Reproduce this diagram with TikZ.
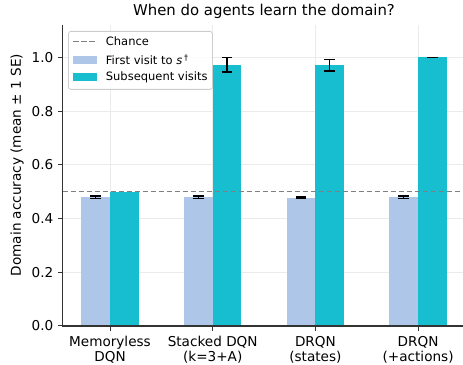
\documentclass[tikz,border=0pt]{standalone}
\usepackage{fontspec}
\setmainfont{DejaVu Sans}
\definecolor{firstc}{HTML}{AEC7E8}
\definecolor{subc}{HTML}{17BECF}
\definecolor{gridc}{HTML}{EBEBEB}
\definecolor{spinec}{HTML}{333333}
\definecolor{chancec}{HTML}{808080}
\definecolor{legc}{HTML}{CCCCCC}
\tikzset{
  gridline/.style={draw=gridc, line width=0.9pt},
  spine/.style={draw=spinec, line width=1.3pt},
  tickmark/.style={draw=spinec, line width=1pt},
  chanceline/.style={draw=chancec, line width=1.5pt, dash pattern=on 5.5pt off 2.5pt},
  firstbar/.style={fill=firstc, draw=none},
  subbar/.style={fill=subc, draw=none},
  errbar/.style={draw=black, line width=1.3pt},
  ticklab/.style={font=\fontsize{13.6}{15}\selectfont, inner sep=0pt},
  leglab/.style={font=\fontsize{11.5}{13}\selectfont, inner sep=0pt, anchor=west},
}
\begin{document}
\begin{tikzpicture}[x=1pt,y=1pt]
\useasboundingbox (0,0) rectangle (463,364);
\begin{scope}[shift={(110,38)}, x=102.7pt, y=268.5pt]
  % grid
  \foreach \v in {0.2,0.4,0.6,0.8,1.0}
    \draw[gridline] (-0.46,\v) -- (3.44,\v);
  \foreach \i in {0,1,2,3}
    \draw[gridline] (\i,0) -- (\i,1.12);
  % bars
  \foreach \i/\a/\b in {0/0.480/0.500, 1/0.480/0.972, 2/0.477/0.972, 3/0.480/1.000}{
    \fill[firstbar] (\i-0.28,0) rectangle (\i,\a);
    \fill[subbar] (\i,0) rectangle (\i+0.28,\b);
  }
  % error bars
  \foreach \x/\m/\e in {-0.14/0.480/0.004, 0.86/0.480/0.004, 1.86/0.477/0.003, 2.86/0.480/0.004,
                        1.14/0.973/0.027, 2.14/0.971/0.021, 3.14/1.000/0.001}{
    \draw[errbar] (\x,\m-\e) -- (\x,\m+\e);
    \draw[errbar] (\x-0.052,\m-\e) -- (\x+0.052,\m-\e);
    \draw[errbar] (\x-0.052,\m+\e) -- (\x+0.052,\m+\e);
  }
  % chance line
  \coordinate (chL) at (-0.46,0.5);
  \coordinate (chR) at (3.44,0.5);
  \draw[chanceline] (chL) -- (chR);
  % spines
  \coordinate (o) at (-0.46,0);
  \coordinate (top) at (-0.46,1.12);
  \coordinate (right) at (3.44,0);
  \draw[spine] (top) -- (o) -- (right);
  % y ticks
  \foreach \v/\l in {0/0.0,0.2/0.2,0.4/0.4,0.6/0.6,0.8/0.8,1.0/1.0}{
    \draw[tickmark] (-0.46,\v) -- ++(-5pt,0) node[ticklab, anchor=east, xshift=-4pt] (yt\l) {\l};
  }
  % x ticks
  \foreach \i/\t/\n in {0/{Memoryless\\DQN}/a, 1/{Stacked DQN\\(k=3+A)}/b, 2/{DRQN\\(states)}/c, 3/{DRQN\\(+actions)}/d}{
    \draw[tickmark] (\i,0) -- ++(0,-5pt) node[ticklab, anchor=north, align=center, yshift=-4.5pt] (xt\n) {\t};
  }
\end{scope}
% title
\node[font=\fontsize{14.9}{17}\selectfont, anchor=base, inner sep=0pt] (title) at (264,348.5) {When do agents learn the domain?};
% y label
\node[font=\fontsize{13.6}{15}\selectfont, rotate=90, inner sep=0pt] (ylab) at (17,199) {Domain accuracy (mean ± 1 SE)};
% legend
\node[draw=legc, fill=white, fill opacity=0.8, draw opacity=1, rounded corners=2.5pt, line width=0.8pt,
      minimum width=144pt, minimum height=58pt, anchor=north west, inner sep=0pt] (legend) at (68,333) {};
\coordinate (dL) at (73,322.5);
\coordinate (dR) at (97,322.5);
\draw[chanceline] (dL) -- (dR);
\node[leglab] (lchance) at (105.7,323) {Chance};
\fill[firstbar] (73,299.5) rectangle (97,307.5);
\node[leglab] (lfirst) at (105.7,304.5) {First visit to {\itshape s}\,\textsuperscript{†}};
\fill[subbar] (73,282.5) rectangle (97,290.5);
\node[leglab] (lsub) at (105.7,286.5) {Subsequent visits};
\end{tikzpicture}
\end{document}
